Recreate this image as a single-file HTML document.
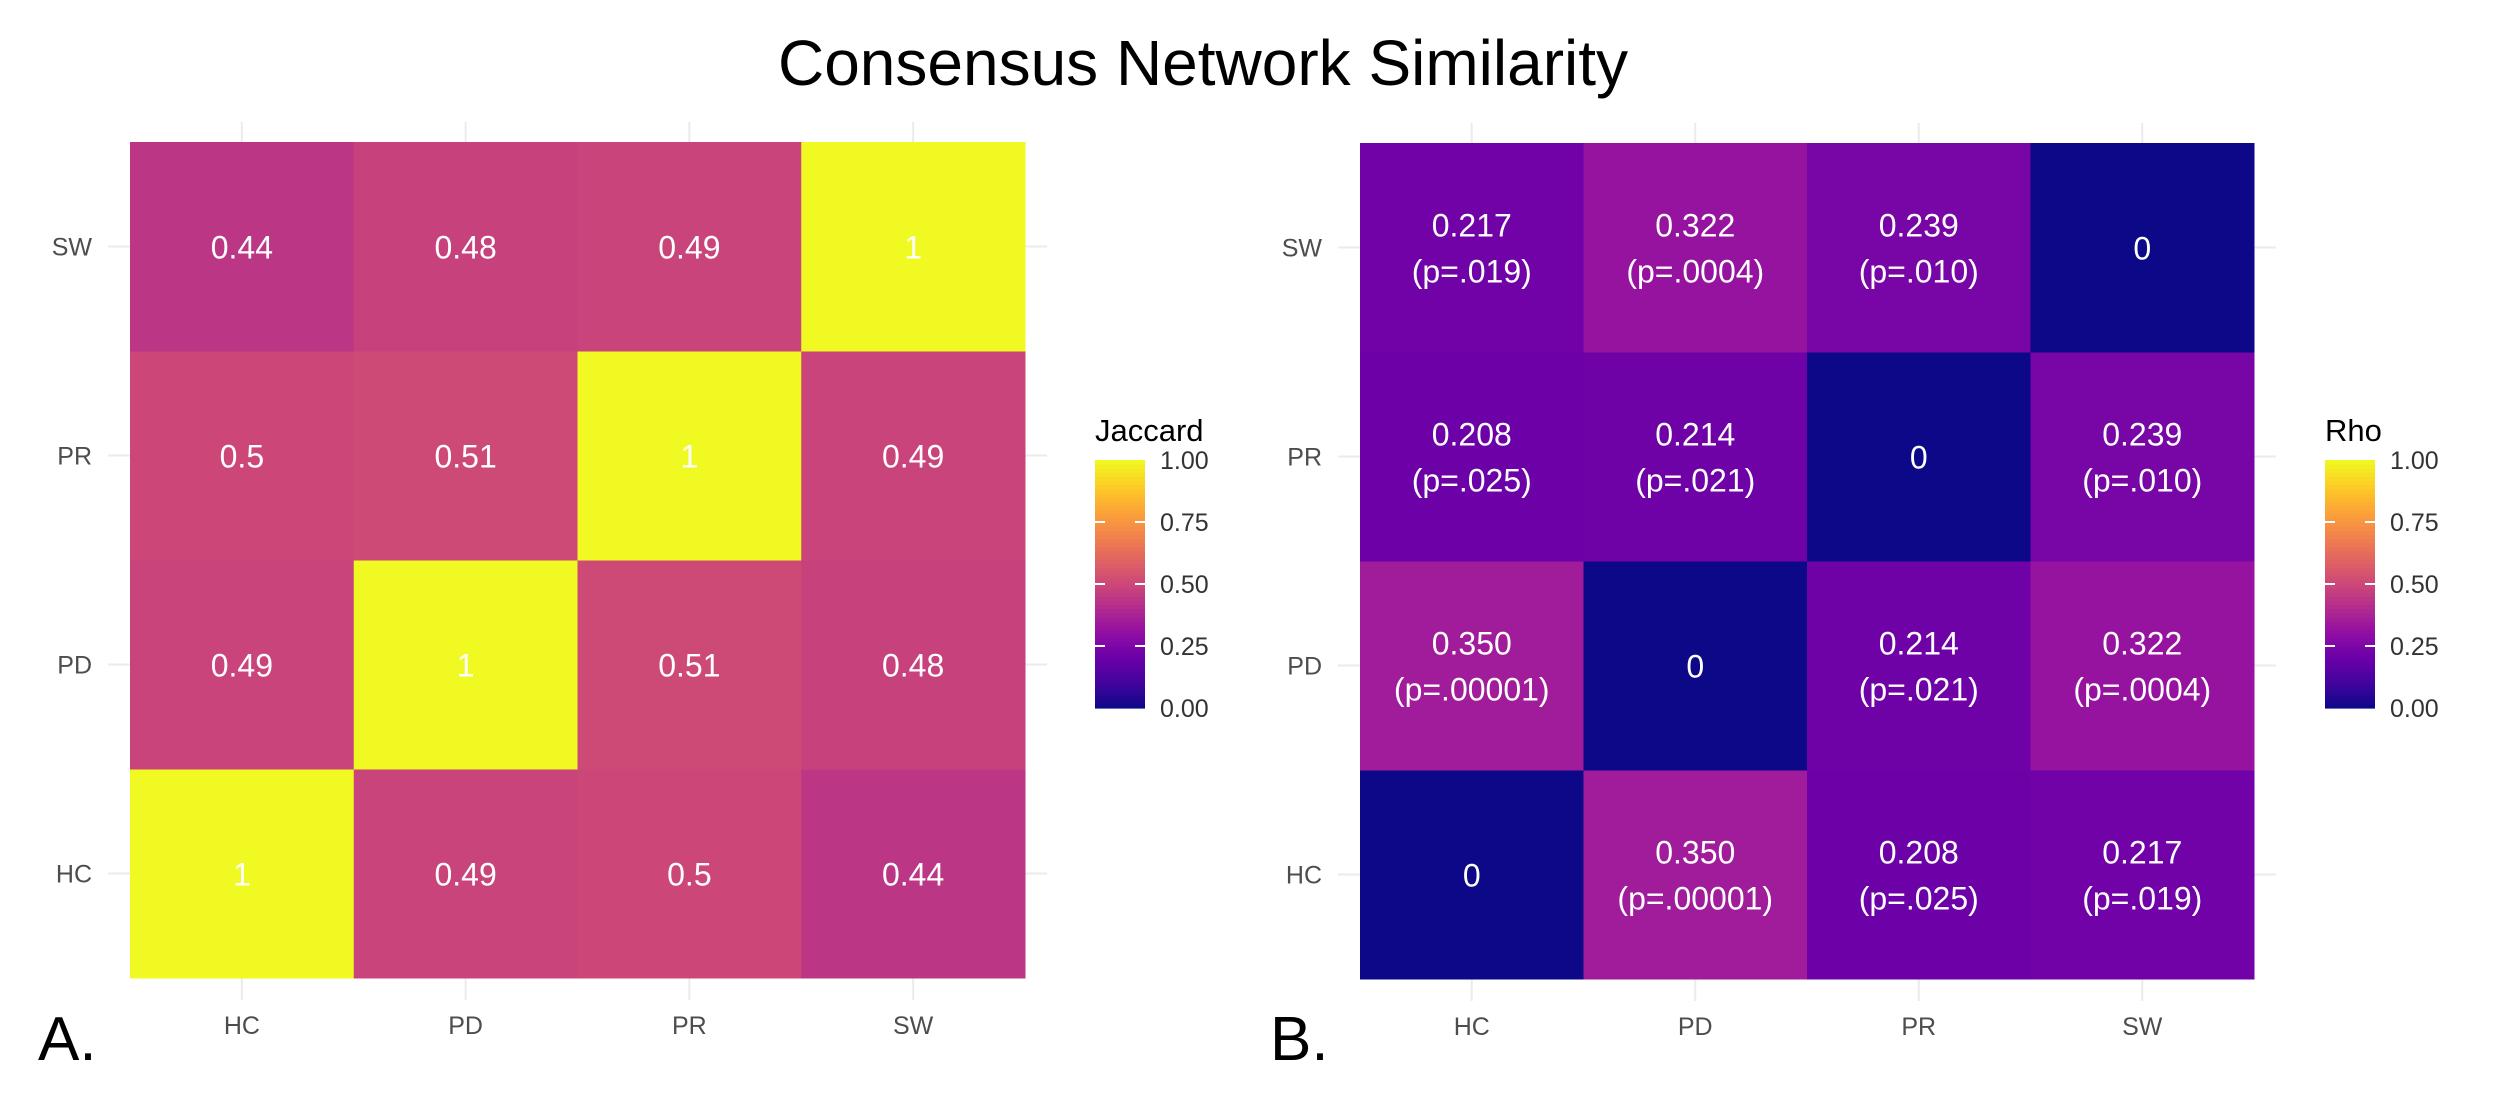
<!DOCTYPE html>
<html><head><meta charset="utf-8"><style>
body{margin:0;background:#fff}
svg text{font-family:"Liberation Sans",sans-serif}
</style></head><body>
<svg id="c" width="2509" height="1110" viewBox="0 0 2509 1110" xmlns="http://www.w3.org/2000/svg">
<rect width="2509" height="1110" fill="#fff"/>
<text x="1203" y="85" font-size="64" text-anchor="middle" fill="#000">Consensus Network Similarity</text>
</svg>
<script>
const groups = ["HC","PD","PR","SW"];
const jaccardValues = [
  [1, 0.49, 0.5, 0.44],
  [0.49, 1, 0.51, 0.48],
  [0.5, 0.51, 1, 0.49],
  [0.44, 0.48, 0.49, 1]
];
const jaccardLabels = [
  ["1","0.49","0.5","0.44"],
  ["0.49","1","0.51","0.48"],
  ["0.5","0.51","1","0.49"],
  ["0.44","0.48","0.49","1"]
];
const rhoValues = [
  [0, 0.350, 0.208, 0.217],
  [0.350, 0, 0.214, 0.322],
  [0.208, 0.214, 0, 0.239],
  [0.217, 0.322, 0.239, 0]
];
const rhoPLabels = [
  ["", "(p=.00001)", "(p=.025)", "(p=.019)"],
  ["(p=.00001)", "", "(p=.021)", "(p=.0004)"],
  ["(p=.025)", "(p=.021)", "", "(p=.010)"],
  ["(p=.019)", "(p=.0004)", "(p=.010)", ""]
];
const legendTicks = [0, 0.25, 0.5, 0.75, 1];
const legendTickLabels = ["0.00","0.25","0.50","0.75","1.00"];

const plasma=["#0d0887","#41049d","#6a00a8","#8f0da4","#b12a90","#cc4778","#e16462","#f2844b","#fca636","#fcce25","#f0f921"];
function hex(h){return [1,3,5].map(i=>parseInt(h.substr(i,2),16));}
function color(v){v=Math.max(0,Math.min(1,v));const t=v*10,i=Math.min(9,Math.floor(t)),f=t-i;const a=hex(plasma[i]),b=hex(plasma[i+1]);return "rgb("+a.map((x,k)=>Math.round(x+(b[k]-x)*f)).join(",")+")";}
const NS="http://www.w3.org/2000/svg",svg=document.getElementById("c");
function mk(tag,attrs,parent,txt){const e=document.createElementNS(NS,tag);for(const k in attrs)e.setAttribute(k,attrs[k]);if(txt!==undefined)e.textContent=txt;(parent||svg).appendChild(e);return e;}

function panel(cfg){
  const g=mk("g",{});
  
  
  const cw=(cfg.x1-cfg.x0)/4,ch=(cfg.y1-cfg.y0)/4;
  const xs=i=>cfg.x0+cw*(i+0.5), ys=j=>cfg.y1-ch*(j+0.5);
  for(let i=0;i<4;i++){
    const v=mk("line",{x1:xs(i),x2:xs(i),y1:cfg.y0-20,y2:cfg.y1+22,stroke:"#ebebeb","stroke-width":2},g);
    
    
    const h=mk("line",{x1:cfg.x0-22,x2:cfg.x1+22,y1:ys(i),y2:ys(i),stroke:"#ebebeb","stroke-width":2},g);
    
    
  }
  for(let r=0;r<4;r++)for(let c=0;c<4;c++){
    const v=cfg.values[r][c];
    const rc=mk("rect",{x:xs(c)-cw/2,y:ys(r)-ch/2,width:cw+0.5,height:ch+0.5,fill:color(v)},g);
    
    
    const lines=cfg.labels(r,c);
    lines.forEach((s,k)=>{
      const dy=lines.length===1?0:(k===0?-23:23);
      const t=mk("text",{x:xs(c),y:ys(r)+dy+12,"font-size":32,fill:"#fff","text-anchor":"middle"},g,s);
      
      
    });
  }
  groups.forEach((gname,i)=>{
    const t=mk("text",{x:cfg.x0-38,y:ys(i)+9,"font-size":25,fill:"#4d4d4d","text-anchor":"end"},g,gname);
    
    
    const t2=mk("text",{x:xs(i),y:cfg.y1+56,"font-size":25,fill:"#4d4d4d","text-anchor":"middle"},g,gname);
    
    
  });
  const pl=mk("text",{x:cfg.letterX,y:1060,"font-size":62,fill:"#000"},g,cfg.letter);
  
  
  const lx=cfg.legX,ly0=460,ly1=708,lw=50;
  const lg=mk("g",{},g);
  
  
  const tt=mk("text",{x:lx,y:441,"font-size":31,fill:"#000"},lg,cfg.legTitle);
  
  
  const n=60;
  for(let k=0;k<n;k++){
    const v=k/n;
    const s=mk("rect",{x:lx,y:ly1-(k+1)*(ly1-ly0)/n,width:lw,height:(ly1-ly0)/n+0.6,fill:color(v+0.5/n)},lg);
    
    
  }
  legendTicks.forEach((v,k)=>{
    const y=ly1-v*(ly1-ly0);
    if(v>0&&v<1){
      mk("line",{x1:lx,x2:lx+10,y1:y,y2:y,stroke:"#fff","stroke-width":2},lg);
      mk("line",{x1:lx+lw-10,x2:lx+lw,y1:y,y2:y,stroke:"#fff","stroke-width":2},lg);
    }
    const t=mk("text",{x:lx+lw+15,y:y+9,"font-size":25,fill:"#333"},lg,legendTickLabels[k]);
    
    
  });
}
panel({name:"jaccard-heatmap",x0:130,x1:1025,y0:142,y1:978,values:jaccardValues,
  labels:(r,c)=>[jaccardLabels[r][c]],letter:"A.",letterX:38,legX:1095,legTitle:"Jaccard"});
panel({name:"rho-heatmap",x0:1360,x1:2254,y0:143,y1:979,values:rhoValues,
  labels:(r,c)=>rhoPLabels[r][c]?[rhoValues[r][c].toFixed(3),rhoPLabels[r][c]]:["0"],letter:"B.",letterX:1270,legX:2325,legTitle:"Rho"});
</script>
</body></html>
